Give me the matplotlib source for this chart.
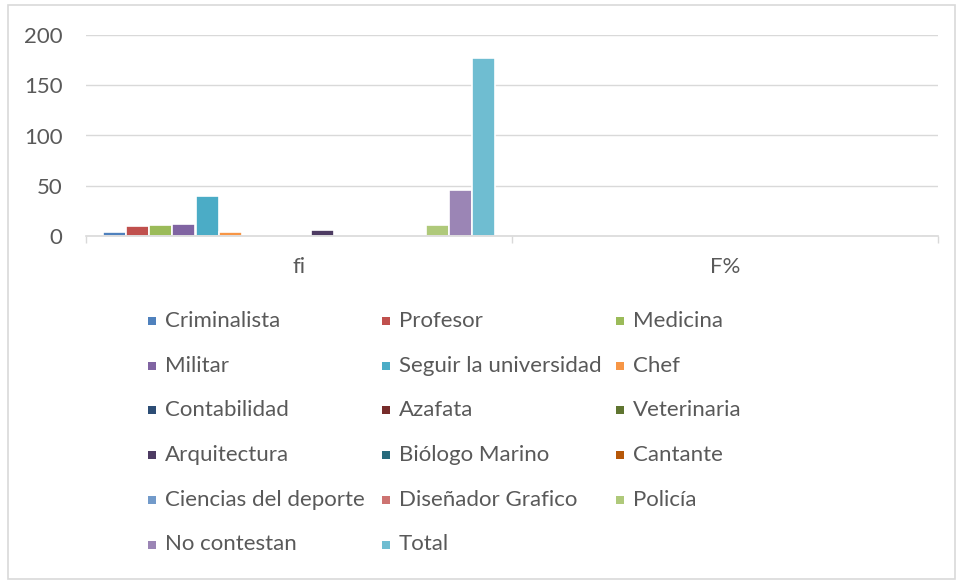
import matplotlib
matplotlib.use("Agg")
import matplotlib.pyplot as plt
from matplotlib.patches import Rectangle
import numpy as np

plt.rcParams['font.family'] = ['Lato', 'DejaVu Sans']

# datos del gráfico
categorias = ["fi", "F%"]
series = ["Criminalista", "Profesor", "Medicina", "Militar", "Seguir la universidad",
          "Chef", "Contabilidad", "Azafata", "Veterinaria", "Arquitectura",
          "Biólogo Marino", "Cantante", "Ciencias del deporte", "Diseñador Grafico",
          "Policía", "No contestan", "Total"]
fi = [4, 10, 11, 12, 40, 4, 0, 0, 1, 6, 0, 0, 0, 0, 11, 46, 177]
f_pct = [0.02, 0.06, 0.06, 0.07, 0.23, 0.02, 0, 0, 0.01, 0.03, 0, 0, 0, 0, 0.06, 0.26, 1.0]
colores = ["#4F81BD", "#C0504D", "#9BBB59", "#8064A2", "#4BACC6", "#F79646",
           "#2C4D75", "#772C2A", "#5F7530", "#4D3B62", "#276A7C", "#B65708",
           "#729ACA", "#CD7371", "#AFC97A", "#9B85B5", "#6FBDD1"]
yticks = [0, 50, 100, 150, 200]

W, H = 956, 580
fig = plt.figure(figsize=(W / 100, H / 100), dpi=100)
gris_texto = "#595959"
gris_linea = "#D9D9D9"

# borde del área del gráfico
fig.patches.append(Rectangle((8 / W, 1 - 579 / H), 947 / W, 574 / H, transform=fig.transFigure,
                             fill=False, edgecolor=gris_linea, linewidth=1.2))

ax = fig.add_axes([86 / W, 1 - 236 / H, (938 - 86) / W, (236 - 35) / H])
x = np.arange(len(categorias))
ancho = 23 / 426
for i, nombre in enumerate(series):
    vals = [fi[i], f_pct[i]]
    ax.bar(x + (i - 8) * ancho, vals, width=ancho, color=colores[i],
           edgecolor="white", linewidth=1.2, zorder=3)

ax.set_xlim(-0.5, 1.5)
ax.set_ylim(0, 200)
ax.set_yticks(yticks)
ax.set_xticks(x)
ax.set_xticklabels(categorias)
ax.set_xticks([-0.5, 0.5, 1.5], minor=True)
ax.tick_params(axis="x", which="major", length=0, pad=15, labelsize=16, labelcolor=gris_texto)
ax.tick_params(axis="x", which="minor", length=5, width=1, color=gris_linea)
ax.tick_params(axis="y", length=0, pad=17, labelsize=16, labelcolor=gris_texto)
ax.grid(axis="y", color=gris_linea, linewidth=1, zorder=0)
for s in ["top", "left", "right"]:
    ax.spines[s].set_visible(False)
ax.spines["bottom"].set_color(gris_linea)
ax.spines["bottom"].set_linewidth(1.2)
ax.spines["bottom"].set_zorder(4)

# leyenda en 3 columnas, orden por filas
col_x = [148, 382, 616]
fila_y0, paso = 321, 44.7
for i, nombre in enumerate(series):
    fila, col = divmod(i, 3)
    cx = col_x[col]
    cy = fila_y0 + fila * paso
    fig.patches.append(Rectangle((cx / W, 1 - (cy + 4) / H), 8 / W, 8 / H,
                                 transform=fig.transFigure, facecolor=colores[i],
                                 edgecolor="none"))
    fig.text((cx + 17) / W, 1 - cy / H, nombre, fontsize=16, color=gris_texto,
             va="center", ha="left")

fig.savefig("out.png", dpi=100)
